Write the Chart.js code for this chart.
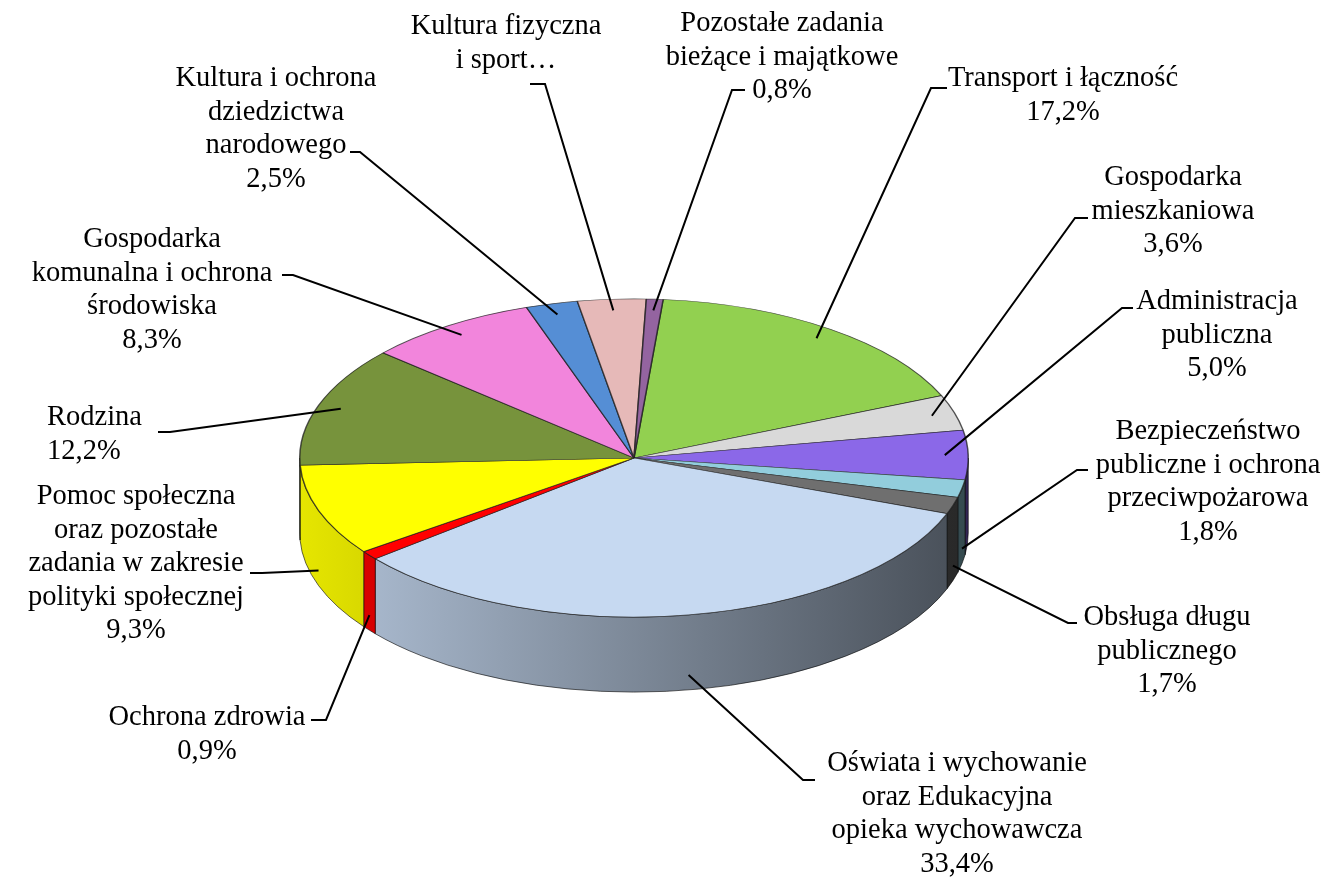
<!DOCTYPE html>
<html>
<head>
<meta charset="utf-8">
<script src="https://cdn.jsdelivr.net/npm/chart.js@4.4.3/dist/chart.umd.min.js"></script>
<style>
  html, body { margin: 0; background: #fff; }
  canvas { display: block; }
</style>
</head>
<body>
<canvas id="chart" width="1339" height="877"></canvas>
<script>
// Data (shares in %)
const categories = [
  'Transport i łączność', 'Gospodarka mieszkaniowa', 'Administracja publiczna',
  'Bezpieczeństwo publiczne i ochrona przeciwpożarowa', 'Obsługa długu publicznego',
  'Oświata i wychowanie oraz Edukacyjna opieka wychowawcza', 'Ochrona zdrowia',
  'Pomoc społeczna oraz pozostałe zadania w zakresie polityki społecznej', 'Rodzina',
  'Gospodarka komunalna i ochrona środowiska', 'Kultura i ochrona dziedzictwa narodowego',
  'Kultura fizyczna i sport', 'Pozostałe zadania bieżące i majątkowe'
];
const shares = [17.2, 3.6, 5.0, 1.8, 1.7, 33.4, 0.9, 9.3, 12.2, 8.3, 2.5, 3.3, 0.8];
const sliceColors = ['#92d050', '#d9d9d9', '#8b68e8', '#92cddc', '#6f6f6f', '#c6d9f1', '#ff0000',
                     '#ffff00', '#77933c', '#f285dc', '#558ed5', '#e6b9b8', '#9464a0'];

// label text, wrapped as in the picture
const labelLines = [
  ['Transport i łączność'],
  ['Gospodarka', 'mieszkaniowa'],
  ['Administracja', 'publiczna'],
  ['Bezpieczeństwo', 'publiczne i ochrona', 'przeciwpożarowa'],
  ['Obsługa długu', 'publicznego'],
  ['Oświata i wychowanie', 'oraz Edukacyjna', 'opieka wychowawcza'],
  ['Ochrona zdrowia'],
  ['Pomoc społeczna', 'oraz pozostałe', 'zadania w zakresie', 'polityki społecznej'],
  ['Rodzina'],
  ['Gospodarka', 'komunalna i ochrona', 'środowiska'],
  ['Kultura i ochrona', 'dziedzictwa', 'narodowego'],
  ['Kultura fizyczna', 'i sport…'],
  ['Pozostałe zadania', 'bieżące i majątkowe']
];
const showPct = [true, true, true, true, true, true, true, true, true, true, true, false, true];

// label layout: text anchor x, first line y, alignment, leader elbow and hook end
const labelX = [1063, 1173, 1217, 1208, 1167, 957, 207, 136, 47, 152, 276, 506, 782];
const labelY = [79, 178, 302, 432, 618, 764, 718, 497, 418, 240, 79, 27, 24];
const labelAlign = ['center', 'center', 'center', 'center', 'center', 'center', 'center',
                    'center', 'left', 'center', 'center', 'center', 'center'];
const leaderElbow = [[931, 88], [1075, 218], [1122, 308], [1077, 470], [1068, 623], [803, 780],
                     [326, 720], [262, 573], [170, 432], [293, 275], [360, 152], [545, 84], [732, 90]];
const leaderHook = [[947, 88], [1088, 218], [1133, 308], [1088, 470], [1077, 623], [815, 780],
                    [311, 720], [250, 573], [158, 432], [282, 275], [350, 152], [530, 84], [745, 90]];

const PIE_CY = 458;   // screen centre of the top face
const TILT = 0.476;   // vertical squash of the pie
const DEPTH = 75;     // thickness of the pie
const LINE_H = 33.5;
const FONT = "28.5px 'Liberation Serif', 'Times New Roman', serif";

function shade(hex, f) {
  const n = parseInt(hex.slice(1), 16);
  const r = Math.round(((n >> 16) & 255) * f);
  const g = Math.round(((n >> 8) & 255) * f);
  const b = Math.round((n & 255) * f);
  return `rgb(${r},${g},${b})`;
}

// parts of an arc that face the viewer (lower half of the ellipse)
function frontParts(s, e) {
  const parts = [];
  for (let n = -1; n <= 1; n++) {
    const lo = Math.max(s, n * 2 * Math.PI), hi = Math.min(e, n * 2 * Math.PI + Math.PI);
    if (hi > lo) parts.push([lo, hi]);
  }
  return parts;
}

const pie3d = {
  id: 'pie3d',
  beforeDatasetsDraw(chart) {
    const ctx = chart.ctx;
    const meta = chart.getDatasetMeta(0);
    const first = meta.data[0];
    const cx = first.x, rx = first.outerRadius, ry = rx * TILT;
    ctx.save();
    // side walls
    meta.data.forEach((el, i) => {
      frontParts(el.startAngle, el.endAngle).forEach(([lo, hi]) => {
        const g = ctx.createLinearGradient(cx - rx, 0, cx + rx, 0);
        g.addColorStop(0, shade(sliceColors[i], 0.9));
        g.addColorStop(1, shade(sliceColors[i], 0.36));
        ctx.beginPath();
        ctx.ellipse(cx, PIE_CY, rx, ry, 0, lo, hi);
        ctx.ellipse(cx, PIE_CY + DEPTH, rx, ry, 0, hi, lo, true);
        ctx.closePath();
        ctx.fillStyle = g;
        ctx.fill();
        ctx.lineWidth = 1;
        ctx.strokeStyle = 'rgba(0,0,0,0.6)';
        ctx.stroke();
      });
    });
    // squash the top face
    ctx.translate(0, PIE_CY);
    ctx.scale(1, TILT);
    ctx.translate(0, -first.y);
  },
  afterDatasetsDraw(chart) {
    const ctx = chart.ctx;
    ctx.restore();
    const meta = chart.getDatasetMeta(0);
    const first = meta.data[0];
    const cx = first.x, rx = first.outerRadius, ry = rx * TILT;
    ctx.save();
    // leader lines
    ctx.strokeStyle = '#000';
    ctx.lineWidth = 2;
    meta.data.forEach((el, i) => {
      const a = (el.startAngle + el.endAngle) / 2;
      const front = Math.sin(a) > 0;
      const f = front ? 1 : 0.93;
      let px = cx + rx * f * Math.cos(a);
      let py = PIE_CY + ry * f * Math.sin(a);
      if (front) py += DEPTH * 0.8;
      ctx.beginPath();
      ctx.moveTo(px, py);
      ctx.lineTo(leaderElbow[i][0], leaderElbow[i][1]);
      ctx.lineTo(leaderHook[i][0], leaderHook[i][1]);
      ctx.stroke();
    });
    // labels
    ctx.fillStyle = '#000';
    ctx.font = FONT;
    ctx.textBaseline = 'middle';
    labelLines.forEach((lines, i) => {
      const all = showPct[i] ? lines.concat([shares[i].toFixed(1).replace('.', ',') + '%']) : lines;
      ctx.textAlign = labelAlign[i];
      all.forEach((t, j) => ctx.fillText(t, labelX[i], labelY[i] + j * LINE_H));
    });
    ctx.restore();
  }
};

new Chart(document.getElementById('chart'), {
  type: 'pie',
  data: {
    labels: categories,
    datasets: [{
      data: shares,
      backgroundColor: sliceColors,
      borderColor: 'rgba(30,30,30,0.75)',
      borderWidth: 1.5,
      clip: false
    }]
  },
  options: {
    responsive: false,
    animation: false,
    devicePixelRatio: 1,
    rotation: 5,
    layout: { padding: { left: 299, right: 370, top: 100, bottom: 107 } },
    plugins: {
      legend: { display: false },
      tooltip: { enabled: false }
    }
  },
  plugins: [pie3d]
});
</script>
</body>
</html>
